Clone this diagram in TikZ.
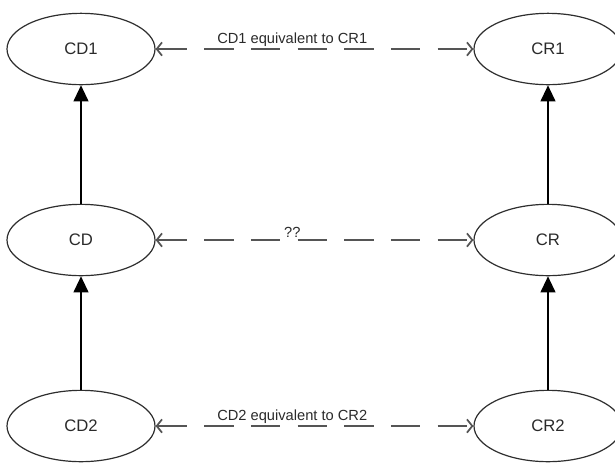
\documentclass[tikz,border=0pt]{standalone}
\usepackage{fontspec}
\setsansfont{Liberation Sans}
\usetikzlibrary{arrows.meta,shapes.geometric}
\definecolor{rimgray}{HTML}{2E2E2E}
\definecolor{dashgray}{HTML}{555555}
\definecolor{textgray}{HTML}{2A2A2A}

\begin{document}
\begin{tikzpicture}[font=\sffamily, x=0.75pt, y=-0.75pt,
    concept/.style={ellipse, draw=rimgray, line width=0.9pt, minimum width=111pt,
        minimum height=53.5pt, inner sep=0pt, text=textgray,
        font=\sffamily\fontsize{12.5}{14}\selectfont},
    equiv/.style={dashgray, line width=1.3pt, dash pattern=on 22pt off 13pt,
        {Straight Barb[length=4pt,width=10pt]}-{Straight Barb[length=4pt,width=10pt]}},
    refines/.style={black, line width=1.5pt, -{Triangle[length=12pt,width=11pt]}},
    lbl/.style={above, inner sep=1pt, pos=0.43, text=textgray,
        font=\sffamily\fontsize{11}{13}\selectfont}]

    \useasboundingbox (0,0) rectangle (615,462);

    % Concepts
    \node[concept] (CD1) at (81,49)  {CD1};
    \node[concept] (CR1) at (548,49) {CR1};
    \node[concept] (CD)  at (81,240) {CD};
    \node[concept] (CR)  at (548,240) {CR};
    \node[concept] (CD2) at (81,426) {CD2};
    \node[concept] (CR2) at (548,426) {CR2};

    % Refinement arrows
    \draw[refines] (CD2.north) -- (CD.south);
    \draw[refines] (CD.north) -- (CD1.south);
    \draw[refines] (CR2.north) -- (CR.south);
    \draw[refines] (CR.north) -- (CR1.south);

    % Equivalences
    \draw[equiv] (CD1) -- node[lbl] {CD1 equivalent to CR1} (CR1);
    \draw[equiv] (CD) -- node[lbl] {??} (CR);
    \draw[equiv] (CD2) -- node[lbl] {CD2 equivalent to CR2} (CR2);

\end{tikzpicture}
\end{document}
